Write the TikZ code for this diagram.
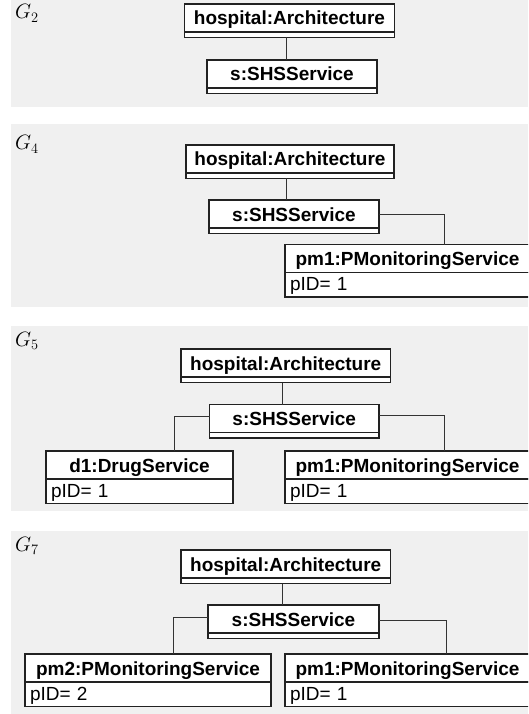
\documentclass[tikz,border=0pt]{standalone}
\usepackage{fontspec}
\setmainfont{Liberation Sans}
\usetikzlibrary{positioning}
\definecolor{panelgray}{HTML}{F0F0F0}
\definecolor{boxline}{HTML}{222222}

\begin{document}
\begin{tikzpicture}[
    x=1pt, y=-1pt,
    objname/.style={draw=boxline, line width=1.2pt, fill=white, outer sep=0pt, inner sep=0pt, minimum width=#1, minimum height=28pt, text height=15pt, text depth=1pt, anchor=north west, font=\fontsize{19}{21}\selectfont\bfseries},
    objtail/.style={draw=boxline, line width=1.2pt, fill=white, outer sep=0pt, inner sep=0pt, minimum width=#1, minimum height=5.5pt},
    objattr/.style={draw=boxline, line width=1.2pt, fill=white, outer sep=0pt, inner xsep=5pt, inner ysep=0pt, text width=#1, minimum height=24.5pt, text height=13pt, text depth=1.5pt, align=left, font=\fontsize{19}{21}\selectfont},
    link/.style={draw=black!80, line width=1pt},
    glabel/.style={anchor=base west, inner sep=0pt, font=\fontsize{20}{22}\selectfont}
]
    \useasboundingbox (0,0) rectangle (528,714);
    \clip (0,0) rectangle (528,714);

    % Panels
    \foreach \top/\bot in {-5/107, 124/307, 326/511, 531/720} {
        \fill[panelgray] (11,\top) rectangle (528,\bot);
    }

    % G2
    \node[glabel] (g2) at (15,19) {$G_2$};
    \node[objname=210pt] (arch2) at (184.5,4) {hospital:Architecture};
    \node[objtail=210pt, below=0pt of arch2] (arch2t) {};
    \node[objname=170pt] (shs2) at (207,60) {s:SHSService};
    \node[objtail=170pt, below=0pt of shs2] (shs2t) {};
    \coordinate (v2) at (286,0);
    \draw[link] (arch2t.south -| v2) -- (shs2.north -| v2);

    % G4
    \node[glabel] (g4) at (15,150) {$G_4$};
    \node[objname=208pt] (arch4) at (186,145) {hospital:Architecture};
    \node[objtail=208pt, below=0pt of arch4] (arch4t) {};
    \node[objname=170pt] (shs4) at (209,200) {s:SHSService};
    \node[objtail=170pt, below=0pt of shs4] (shs4t) {};
    \node[objname=245pt] (pmone4) at (285,244.5) {pm1:PMonitoringService};
    \node[objattr=235pt, below=0pt of pmone4] (pmone4a) {pID= 1};
    \coordinate (v4) at (286,0);
    \coordinate (r4) at (444,214);
    \draw[link] (arch4t.south -| v4) -- (shs4.north -| v4);
    \draw[link] (shs4.east |- r4) -| (pmone4.north -| r4);

    % G5
    \node[glabel] (g5) at (15,346.5) {$G_5$};
    \node[objname=209.5pt] (arch5) at (181,349) {hospital:Architecture};
    \node[objtail=209.5pt, below=0pt of arch5] (arch5t) {};
    \node[objname=169.5pt] (shs5) at (209.5,404.5) {s:SHSService};
    \node[objtail=169.5pt, below=0pt of shs5] (shs5t) {};
    \node[objname=187pt] (drug5) at (46,451) {d1:DrugService};
    \node[objattr=177pt, below=0pt of drug5] (drug5a) {pID= 1};
    \node[objname=245pt] (pmone5) at (285,451) {pm1:PMonitoringService};
    \node[objattr=235pt, below=0pt of pmone5] (pmone5a) {pID= 1};
    \coordinate (v5) at (282,0);
    \coordinate (l5) at (174.5,416.5);
    \coordinate (r5) at (444.5,415);
    \draw[link] (arch5t.south -| v5) -- (shs5.north -| v5);
    \draw[link] (shs5.west |- l5) -| (drug5.north -| l5);
    \draw[link] (shs5.east |- r5) -| (pmone5.north -| r5);

    % G7
    \node[glabel] (g7) at (15,551) {$G_7$};
    \node[objname=209.5pt] (arch7) at (181,550) {hospital:Architecture};
    \node[objtail=209.5pt, below=0pt of arch7] (arch7t) {};
    \node[objname=171pt] (shs7) at (208,605) {s:SHSService};
    \node[objtail=171pt, below=0pt of shs7] (shs7t) {};
    \node[objname=246pt] (pmtwo7) at (25,654) {pm2:PMonitoringService};
    \node[objattr=236pt, below=0pt of pmtwo7] (pmtwo7a) {pID= 2};
    \node[objname=245pt] (pmone7) at (285,654) {pm1:PMonitoringService};
    \node[objattr=235pt, below=0pt of pmone7] (pmone7a) {pID= 1};
    \coordinate (v7) at (282,0);
    \coordinate (l7) at (173.5,617.5);
    \coordinate (r7) at (446,620);
    \draw[link] (arch7t.south -| v7) -- (shs7.north -| v7);
    \draw[link] (shs7.west |- l7) -| (pmtwo7.north -| l7);
    \draw[link] (shs7.east |- r7) -| (pmone7.north -| r7);

\end{tikzpicture}
\end{document}
